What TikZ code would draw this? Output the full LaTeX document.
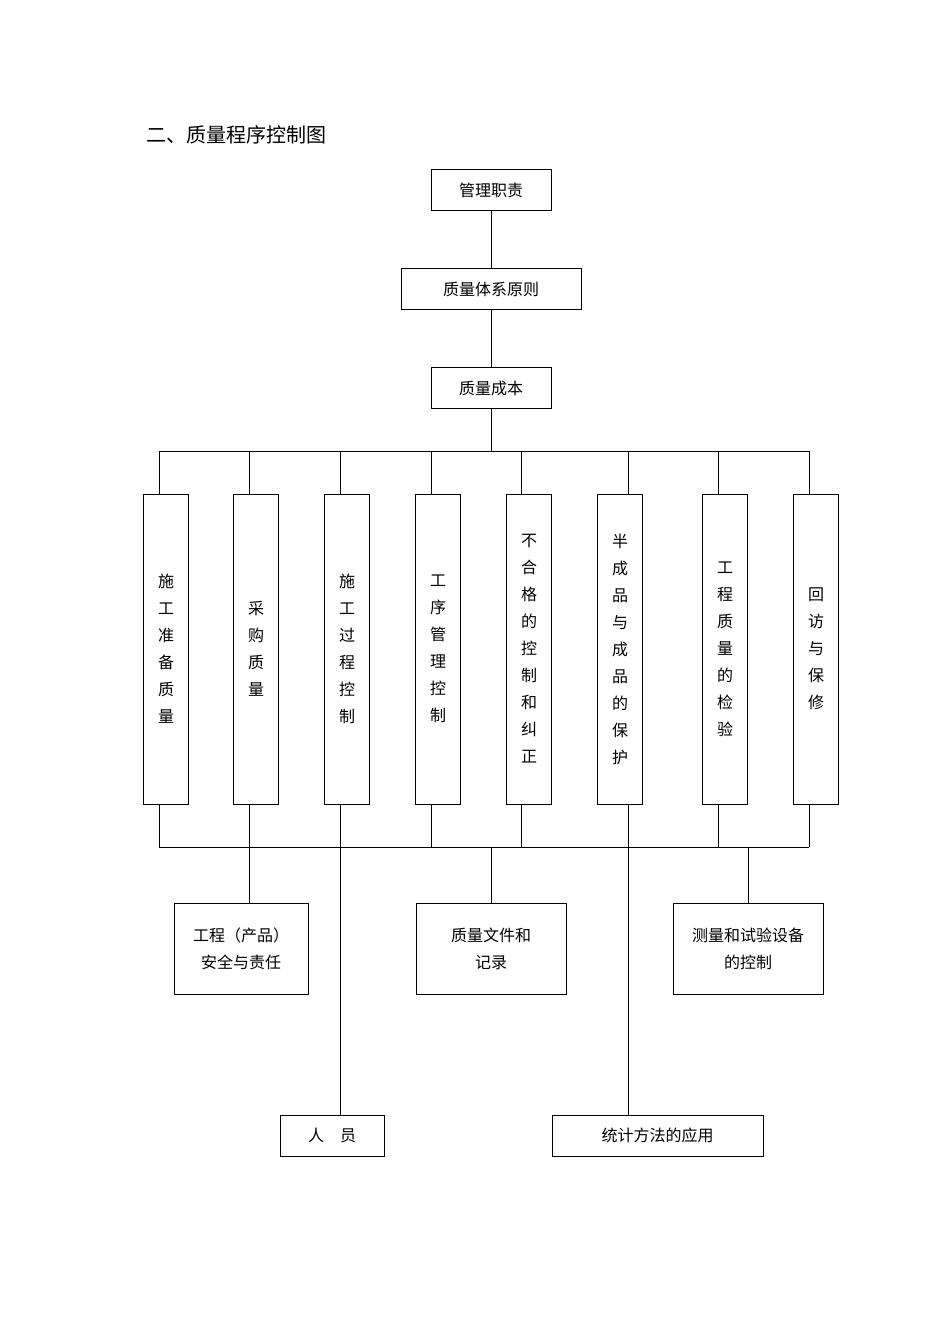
\documentclass[tikz,border=0pt]{standalone}
\usepackage{fontspec}
\setmainfont{Liberation Serif}
\newfontfamily\cjk{Noto Sans CJK SC}
\usetikzlibrary{positioning}

\begin{document}
\begin{tikzpicture}[x=1pt, y=-1pt, thick,
    box/.style={draw, line width=0.8pt, minimum height=41pt, font=\cjk\fontsize{16}{20}\selectfont, inner sep=0pt},
    col/.style={draw, line width=0.8pt, minimum width=45pt, minimum height=310pt, inner sep=0pt,
                font=\cjk\fontsize{16}{27}\selectfont, align=center, text width=16pt},
    wide/.style={draw, line width=0.8pt, minimum height=91pt, font=\cjk\fontsize{16}{27}\selectfont, align=center},
    link/.style={line width=0.8pt}]

  \useasboundingbox (0, 0) rectangle (950, 1344);

  \node[anchor=west, font=\cjk\fontsize{20}{24}\selectfont] (title) at (143, 135) {二、质量程序控制图};

  % top chain
  \node[box, minimum width=120pt] (duty)  at (491, 190) {管理职责};
  \node[box, minimum width=180pt] (sys)   at (491, 289) {质量体系原则};
  \node[box, minimum width=120pt] (cost)  at (491, 388) {质量成本};
  \draw[link] (duty) -- (sys);
  \draw[link] (sys) -- (cost);
  \coordinate (bus) at (491, 451);
  \draw[link] (cost) -- (bus);
  \coordinate (busL) at (159, 451);
  \coordinate (busR) at (809, 451);
  \draw[link] (busL) -- (busR);
  \coordinate (lowL) at (159, 847);
  \coordinate (lowR) at (809, 847);
  \draw[link] (lowL) -- (lowR);

  % columns
  \foreach \cx/\lx/\txt [count=\n] in {
      166/159/{施\\工\\准\\备\\质\\量},
      256/249/{采\\购\\质\\量},
      347/340/{施\\工\\过\\程\\控\\制},
      438/431/{工\\序\\管\\理\\控\\制},
      529/521/{不\\合\\格\\的\\控\\制\\和\\纠\\正},
      620/628/{半\\成\\品\\与\\成\\品\\的\\保\\护},
      725/718/{工\\程\\质\\量\\的\\检\\验},
      816/809/{回\\访\\与\\保\\修}} {
    \node[col] (c\n) at (\cx, 649) {\txt};
    \coordinate (t\n) at (\lx, 451);
    \coordinate (b\n) at (\lx, 847);
    \draw[link] (t\n) -- (t\n |- c\n.north);
    \draw[link] (b\n |- c\n.south) -- (b\n);
  }

  % lower boxes
  \node[wide, minimum width=134pt] (safe) at (241, 948.5) {工程（产品）\\安全与责任};
  \node[wide, minimum width=150pt] (doc)  at (491, 948.5) {质量文件和\\记录};
  \node[wide, minimum width=150pt] (meas) at (748, 948.5) {测量和试验设备\\的控制};
  \coordinate (s1) at (249, 847);
  \coordinate (s2) at (491, 847);
  \coordinate (s3) at (748, 847);
  \draw[link] (s1) -- (s1 |- safe.north);
  \draw[link] (s2) -- (doc);
  \draw[link] (s3) -- (meas);

  \node[box, minimum width=104pt] (staff) at (332, 1135.5) {人\hspace{1em}员};
  \node[box, minimum width=211pt] (stat)  at (657.5, 1135.5) {统计方法的应用};
  \coordinate (p3) at (340, 804);
  \coordinate (p6) at (628, 804);
  \draw[link] (p3) -- (p3 |- staff.north);
  \draw[link] (p6) -- (p6 |- stat.north);

\end{tikzpicture}
\end{document}
